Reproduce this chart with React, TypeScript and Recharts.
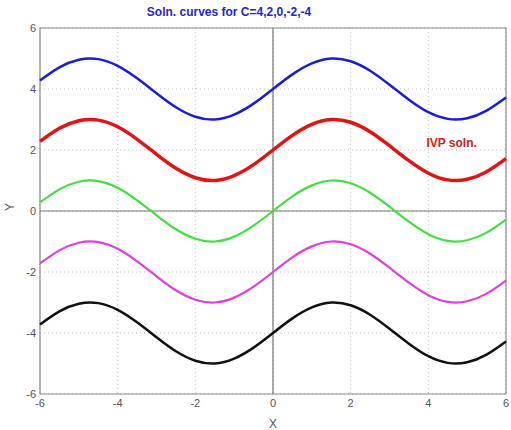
import {
  LineChart,
  Line,
  XAxis,
  YAxis,
  CartesianGrid,
  ReferenceLine,
  ReferenceArea,
  ReferenceDot,
} from "recharts";

// x positions read along the axis
const xs = [
  -6, -5.5, -5, -4.5, -4, -3.5, -3, -2.5, -2, -1.5, -1, -0.5, 0, 0.5, 1, 1.5, 2,
  2.5, 3, 3.5, 4, 4.5, 5, 5.5, 6,
];

// curve values, one list per C
const c4 = [
  4.28, 4.71, 4.96, 4.98, 4.76, 4.35, 3.86, 3.4, 3.09, 3.0, 3.16, 3.52, 4.0, 4.48,
  4.84, 5.0, 4.91, 4.6, 4.14, 3.65, 3.24, 3.02, 3.04, 3.29, 3.72,
];
const c2 = [
  2.28, 2.71, 2.96, 2.98, 2.76, 2.35, 1.86, 1.4, 1.09, 1.0, 1.16, 1.52, 2.0, 2.48,
  2.84, 3.0, 2.91, 2.6, 2.14, 1.65, 1.24, 1.02, 1.04, 1.29, 1.72,
];
const c0 = [
  0.28, 0.71, 0.96, 0.98, 0.76, 0.35, -0.14, -0.6, -0.91, -1.0, -0.84, -0.48, 0,
  0.48, 0.84, 1.0, 0.91, 0.6, 0.14, -0.35, -0.76, -0.98, -0.96, -0.71, -0.28,
];
const cm2 = [
  -1.72, -1.29, -1.04, -1.02, -1.24, -1.65, -2.14, -2.6, -2.91, -3.0, -2.84,
  -2.48, -2.0, -1.52, -1.16, -1.0, -1.09, -1.4, -1.86, -2.35, -2.76, -2.98,
  -2.96, -2.71, -2.28,
];
const cm4 = [
  -3.72, -3.29, -3.04, -3.02, -3.24, -3.65, -4.14, -4.6, -4.91, -5.0, -4.84,
  -4.48, -4.0, -3.52, -3.16, -3.0, -3.09, -3.4, -3.86, -4.35, -4.76, -4.98,
  -4.96, -4.71, -4.28,
];

const xTicks = [-6, -4, -2, 0, 2, 4, 6];
const yTicks = [-6, -4, -2, 0, 2, 4, 6];

const data = xs.map((x, i) => ({
  x,
  c4: c4[i],
  c2: c2[i],
  c0: c0[i],
  cm2: cm2[i],
  cm4: cm4[i],
}));

const tickStyle = { fontSize: 11, fill: "#555", fontFamily: "Arial, Liberation Sans" };

export default function App() {
  return (
    <div style={{ position: "absolute", left: 0, top: 0, width: 511, height: 430, background: "#fff" }}>
      <div
        style={{
          position: "absolute",
          left: 0,
          width: 458,
          top: 5,
          textAlign: "center",
          fontFamily: "Arial, Liberation Sans",
          fontWeight: "bold",
          fontSize: 12,
          color: "#2626c8",
        }}
      >
        Soln. curves for C=4,2,0,-2,-4
      </div>
      <LineChart
        width={511}
        height={430}
        data={data}
        margin={{ top: 28, right: 5, left: 0, bottom: 0 }}
      >
        <CartesianGrid strokeDasharray="1 3" stroke="#c0c0c0" />
        <XAxis
          dataKey="x"
          type="number"
          domain={[-6, 6]}
          ticks={xTicks}
          tickSize={0}
          tickMargin={5}
          axisLine={false}
          height={36}
          tick={tickStyle}
          label={{ value: "X", position: "insideBottom", offset: 2, fontSize: 12, fill: "#555", fontFamily: "Arial, Liberation Sans" }}
        />
        <YAxis
          type="number"
          domain={[-6, 6]}
          ticks={yTicks}
          tickSize={0}
          tickMargin={4}
          axisLine={false}
          width={40}
          tick={tickStyle}
          label={{ value: "Y", angle: -90, position: "insideLeft", offset: 10, fontSize: 12, fill: "#555", fontFamily: "Arial, Liberation Sans" }}
        />
        <ReferenceArea x1={-6} x2={6} y1={-6} y2={6} fill="none" stroke="#8a8a8a" strokeWidth={1.2} />
        <ReferenceLine x={0} stroke="#777" strokeWidth={1.2} />
        <ReferenceLine y={0} stroke="#777" strokeWidth={1.2} />
        <Line type="natural" dataKey="c4" stroke="#1c1cd8" strokeWidth={2.5} dot={false} isAnimationActive={false} />
        <Line type="natural" dataKey="c2" stroke="#e01414" strokeWidth={3.5} dot={false} isAnimationActive={false} />
        <Line type="natural" dataKey="c0" stroke="#44dd44" strokeWidth={2.2} dot={false} isAnimationActive={false} />
        <Line type="natural" dataKey="cm2" stroke="#dd40dd" strokeWidth={2.2} dot={false} isAnimationActive={false} />
        <Line type="natural" dataKey="cm4" stroke="#111111" strokeWidth={2.5} dot={false} isAnimationActive={false} />
        <ReferenceDot
          x={4.6}
          y={2.23}
          r={0}
          fill="none"
          stroke="none"
          label={{ value: "IVP soln.", position: "center", fontSize: 12, fontWeight: "bold", fill: "#d42020", fontFamily: "Arial, Liberation Sans" }}
        />
      </LineChart>
    </div>
  );
}
